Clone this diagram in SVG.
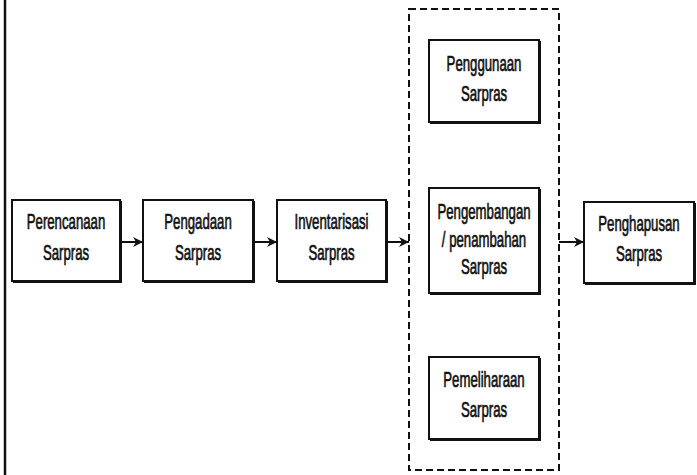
<svg xmlns="http://www.w3.org/2000/svg" width="697" height="475" viewBox="0 0 697 475">
<defs>
<style>
.box{fill:#fff;stroke:#111;stroke-width:2}
.sh{fill:none;stroke:#111;stroke-width:2}
.t{font-family:"Liberation Sans",Arial,sans-serif;font-size:22px;fill:#111;stroke:#111;stroke-width:0.7;text-anchor:middle}
.con{stroke:#111;stroke-width:2;fill:none;marker-end:url(#ah)}
</style>
<marker id="ah" viewBox="0 0 10 10" refX="10" refY="5" markerWidth="10" markerHeight="10" markerUnits="userSpaceOnUse" orient="auto">
<path d="M0,0 L10,5 L0,10 L3,5 z" fill="#111"/>
</marker>
</defs>
<rect width="697" height="475" fill="#fff"/>
<line x1="5" y1="0" x2="5" y2="475" stroke="#111" stroke-width="2.5"/>
<rect id="group" x="409" y="9" width="150" height="461" fill="none" stroke="#111" stroke-width="2" stroke-dasharray="7,4"/>
<g id="perencanaan">
<rect class="box" x="12" y="200" width="108" height="81"/>
<polyline class="sh" points="13,282 121,282 121,201"/>
<text class="t" transform="translate(66,229) scale(0.6,1)">Perencanaan</text>
<text class="t" transform="translate(66,260) scale(0.6,1)">Sarpras</text>
</g>
<g id="pengadaan">
<rect class="box" x="143" y="200" width="110" height="81"/>
<polyline class="sh" points="144,282 254,282 254,201"/>
<text class="t" transform="translate(198,229) scale(0.6,1)">Pengadaan</text>
<text class="t" transform="translate(198,260) scale(0.6,1)">Sarpras</text>
</g>
<g id="inventarisasi">
<rect class="box" x="277" y="200" width="109" height="81"/>
<polyline class="sh" points="278,282 387,282 387,201"/>
<text class="t" transform="translate(331.5,229) scale(0.6,1)">Inventarisasi</text>
<text class="t" transform="translate(331.5,260) scale(0.6,1)">Sarpras</text>
</g>
<g id="penggunaan">
<rect class="box" x="429" y="40" width="110" height="82"/>
<polyline class="sh" points="430,123 540,123 540,41"/>
<text class="t" transform="translate(484,71) scale(0.6,1)">Penggunaan</text>
<text class="t" transform="translate(484,101) scale(0.6,1)">Sarpras</text>
</g>
<g id="pengembangan">
<rect class="box" x="429" y="188" width="110" height="105"/>
<polyline class="sh" points="430,294 540,294 540,189"/>
<text class="t" transform="translate(484,219) scale(0.6,1)">Pengembangan</text>
<text class="t" transform="translate(484,246.5) scale(0.6,1)">/ penambahan</text>
<text class="t" transform="translate(484,274) scale(0.6,1)">Sarpras</text>
</g>
<g id="pemeliharaan">
<rect class="box" x="429" y="357" width="110" height="82"/>
<polyline class="sh" points="430,440 540,440 540,358"/>
<text class="t" transform="translate(484,387) scale(0.6,1)">Pemeliharaan</text>
<text class="t" transform="translate(484,417) scale(0.6,1)">Sarpras</text>
</g>
<g id="penghapusan">
<rect class="box" x="584" y="202" width="110" height="81"/>
<polyline class="sh" points="585,284 695,284 695,203"/>
<text class="t" transform="translate(639,231) scale(0.6,1)">Penghapusan</text>
<text class="t" transform="translate(639,261) scale(0.6,1)">Sarpras</text>
</g>
<g id="connectors">
<line class="con" x1="121" y1="242" x2="143" y2="242"/>
<line class="con" x1="254" y1="242" x2="277" y2="242"/>
<line class="con" x1="387" y1="242" x2="409" y2="242"/>
<line class="con" x1="559" y1="242" x2="584" y2="242"/>
</g>
</svg>
